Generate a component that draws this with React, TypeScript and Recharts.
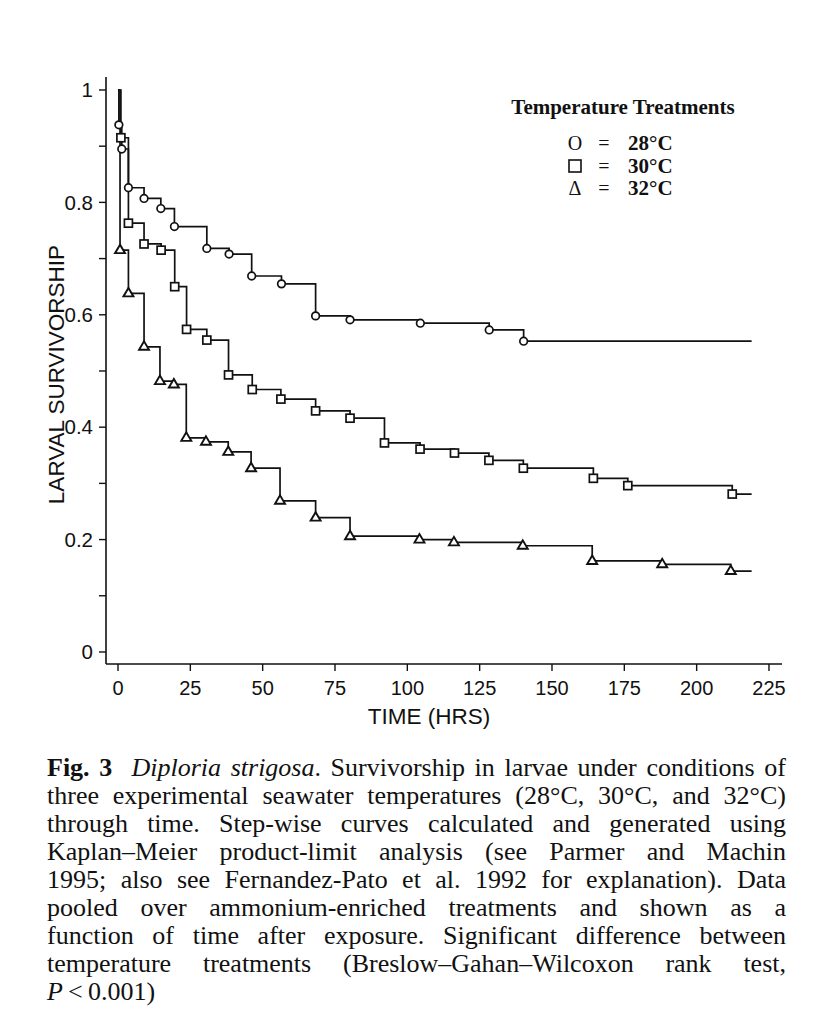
import React from 'react';
import { LineChart, Line, XAxis, YAxis, Legend } from 'recharts';

// Kaplan-Meier survivorship (hours, proportion surviving)
const hours28 = [0, 0.3, 1.3, 3.6, 9, 14.8, 19.5, 30.7, 38.4, 46.2, 56.5, 68.3, 80.2, 104.5, 128.3, 140.2, 219];
const surv28 = [1, 0.938, 0.895, 0.826, 0.807, 0.789, 0.757, 0.718, 0.708, 0.669, 0.655, 0.598, 0.591, 0.585, 0.573, 0.553, 0.553];

const hours30 = [0, 1, 3.6, 9, 14.9, 19.6, 23.7, 30.7, 38.2, 46.4, 56.3, 68.3, 80.2, 92.1, 104.4, 116.3, 128.2, 140.1, 164.3, 176.2, 212.3, 219];
const surv30 = [1, 0.915, 0.763, 0.726, 0.715, 0.65, 0.574, 0.555, 0.493, 0.467, 0.45, 0.429, 0.416, 0.372, 0.361, 0.354, 0.341, 0.327, 0.309, 0.296, 0.281, 0.281];

const hours32 = [0, 0.7, 3.6, 9, 14.5, 19.3, 23.6, 30.4, 38.1, 46, 56, 68.3, 80.2, 104.2, 116.1, 139.9, 163.9, 188.1, 211.8, 219];
const surv32 = [1, 0.715, 0.638, 0.543, 0.482, 0.476, 0.381, 0.374, 0.356, 0.327, 0.269, 0.239, 0.206, 0.2, 0.195, 0.189, 0.162, 0.156, 0.144, 0.144];

const xTicks = [0, 25, 50, 75, 100, 125, 150, 175, 200, 225];
const yTicks = [0, 0.1, 0.2, 0.3, 0.4, 0.5, 0.6, 0.7, 0.8, 0.9, 1];

const captionLines = [
  'three experimental seawater temperatures (28°C, 30°C, and 32°C)',
  'through time. Step-wise curves calculated and generated using',
  'Kaplan–Meier product-limit analysis (see Parmer and Machin',
  '1995; also see Fernandez-Pato et al. 1992 for explanation). Data',
  'pooled over ammonium-enriched treatments and shown as a',
  'function of time after exposure. Significant difference between',
  'temperature treatments (Breslow–Gahan–Wilcoxon rank test,',
];

type Shape = 'circle' | 'square' | 'triangle';

// first (t=0) and last (censored end) points carry no marker
const toRows = (hours: number[], surv: number[]) =>
  hours.map((t, i) => ({ t, s: surv[i], mark: i > 0 && i < hours.length - 1 }));

const series: { name: string; shape: Shape; data: { t: number; s: number; mark: boolean }[] }[] = [
  { name: '28°C', shape: 'circle', data: toRows(hours28, surv28) },
  { name: '30°C', shape: 'square', data: toRows(hours30, surv30) },
  { name: '32°C', shape: 'triangle', data: toRows(hours32, surv32) },
];

const INK = '#111';
const SANS = '"Liberation Sans", Arial, sans-serif';
const SERIF = '"Liberation Serif", "Times New Roman", serif';

function Marker({ shape, cx, cy }: { shape: Shape; cx: number; cy: number }) {
  if (shape === 'circle') {
    return <circle cx={cx} cy={cy} r={3.8} fill="#fff" stroke={INK} strokeWidth={1.7} />;
  }
  if (shape === 'square') {
    return <rect x={cx - 4} y={cy - 4} width={8} height={8} fill="#fff" stroke={INK} strokeWidth={1.7} />;
  }
  return (
    <polygon
      points={`${cx},${cy - 5.5} ${cx - 5},${cy + 3} ${cx + 5},${cy + 3}`}
      fill="#fff"
      stroke={INK}
      strokeWidth={1.9}
      strokeLinejoin="miter"
    />
  );
}

const shapeOf = (name: string) => series.find((s) => s.name === name)?.shape ?? 'circle';

function LegendSymbol({ shape }: { shape: Shape }) {
  if (shape === 'square') {
    return (
      <svg width={14} height={14} style={{ display: 'block' }}>
        <rect x={1} y={1} width={12} height={12} fill="none" stroke={INK} strokeWidth={1.6} />
      </svg>
    );
  }
  return <span style={{ fontSize: 20 }}>{shape === 'circle' ? 'O' : 'Δ'}</span>;
}

// zero-height wrapper so the legend does not push the plot area down
function renderLegend(props: any) {
  const items: any[] = props.payload ?? [];
  return (
    <div style={{ height: 0, overflow: 'visible' }}>
      <div style={{ fontFamily: SERIF, color: INK, width: 256 }}>
        <div style={{ fontWeight: 'bold', fontSize: 21, lineHeight: '24px', textAlign: 'center' }}>
          Temperature Treatments
        </div>
        <div style={{ marginTop: 13 }}>
          {items.map((item) => (
            <div key={item.value} style={{ position: 'relative', height: 22.5 }}>
              <div
                style={{
                  position: 'absolute',
                  left: 70,
                  width: 20,
                  top: 0,
                  height: 22.5,
                  display: 'flex',
                  alignItems: 'center',
                  justifyContent: 'center',
                }}
              >
                <LegendSymbol shape={shapeOf(item.value)} />
              </div>
              <div style={{ position: 'absolute', left: 100, width: 18, textAlign: 'center', fontSize: 20, lineHeight: '22.5px' }}>
                =
              </div>
              <div style={{ position: 'absolute', left: 133, fontWeight: 'bold', fontSize: 21, lineHeight: '22.5px' }}>
                {item.value}
              </div>
            </div>
          ))}
        </div>
      </div>
    </div>
  );
}

const lineStyle = { textAlign: 'justify', textAlignLast: 'justify', whiteSpace: 'nowrap' } as const;

export default function App() {
  return (
    <div style={{ width: 797, background: '#fff' }}>
      <LineChart width={797} height={740} margin={{ top: 69, right: 23, bottom: 14, left: 0 }}>
        <XAxis
          type="number"
          dataKey="t"
          domain={[-4.15, 229.5]}
          ticks={xTicks}
          interval={0}
          allowDataOverflow
          tickSize={7}
          tickMargin={10}
          height={70}
          axisLine={{ stroke: INK, strokeWidth: 1.6 }}
          tickLine={{ stroke: INK, strokeWidth: 1.4 }}
          tick={{ fill: INK, fontSize: 20, fontFamily: SANS }}
          label={{
            value: 'TIME (HRS)',
            position: 'insideBottom',
            offset: 10,
            dx: -15,
            fill: INK,
            fontSize: 22.5,
            fontFamily: SANS,
          }}
        />
        <YAxis
          type="number"
          dataKey="s"
          domain={[-0.0214, 1.0231]}
          ticks={yTicks}
          interval={0}
          allowDataOverflow
          width={98}
          tickSize={7}
          tickMargin={6}
          axisLine={{ stroke: INK, strokeWidth: 1.6 }}
          tickLine={{ stroke: INK, strokeWidth: 1.4 }}
          tick={{ fill: INK, fontSize: 20.5, fontFamily: SANS }}
          tickFormatter={(v: number) => (Math.round(v * 10) % 2 === 0 ? String(v) : '')}
          label={{
            value: 'LARVAL SURVIVORSHIP',
            angle: -90,
            position: 'center',
            dx: -1,
            dy: 4,
            fill: INK,
            fontSize: 22.5,
            fontFamily: SANS,
          }}
        />
        <Legend
          verticalAlign="top"
          align="right"
          content={renderLegend}
          wrapperStyle={{ position: 'absolute', left: 487, top: 87, width: 256 }}
        />
        {series.map((s) => (
          <Line
            key={s.name}
            name={s.name}
            data={s.data}
            dataKey="s"
            type="stepAfter"
            stroke={INK}
            strokeWidth={1.7}
            isAnimationActive={false}
            activeDot={false}
            dot={(p: any) =>
              p.payload && p.payload.mark ? (
                <Marker key={`${s.name}-${p.index}`} shape={s.shape} cx={p.cx} cy={p.cy} />
              ) : (
                <g key={`${s.name}-${p.index}`} />
              )
            }
          />
        ))}
      </LineChart>
      <div
        style={{
          marginTop: 6,
          marginLeft: 39,
          width: 739,
          fontFamily: SERIF,
          fontSize: 26,
          lineHeight: '28px',
          color: INK,
        }}
      >
        <div style={lineStyle}>
          <b>Fig. 3</b>&nbsp; <i>Diploria strigosa</i>. Survivorship in larvae under conditions of
        </div>
        {captionLines.map((line) => (
          <div key={line} style={lineStyle}>
            {line}
          </div>
        ))}
        <div>
          <i>P</i>&thinsp;&lt;&thinsp;0.001)
        </div>
      </div>
    </div>
  );
}
